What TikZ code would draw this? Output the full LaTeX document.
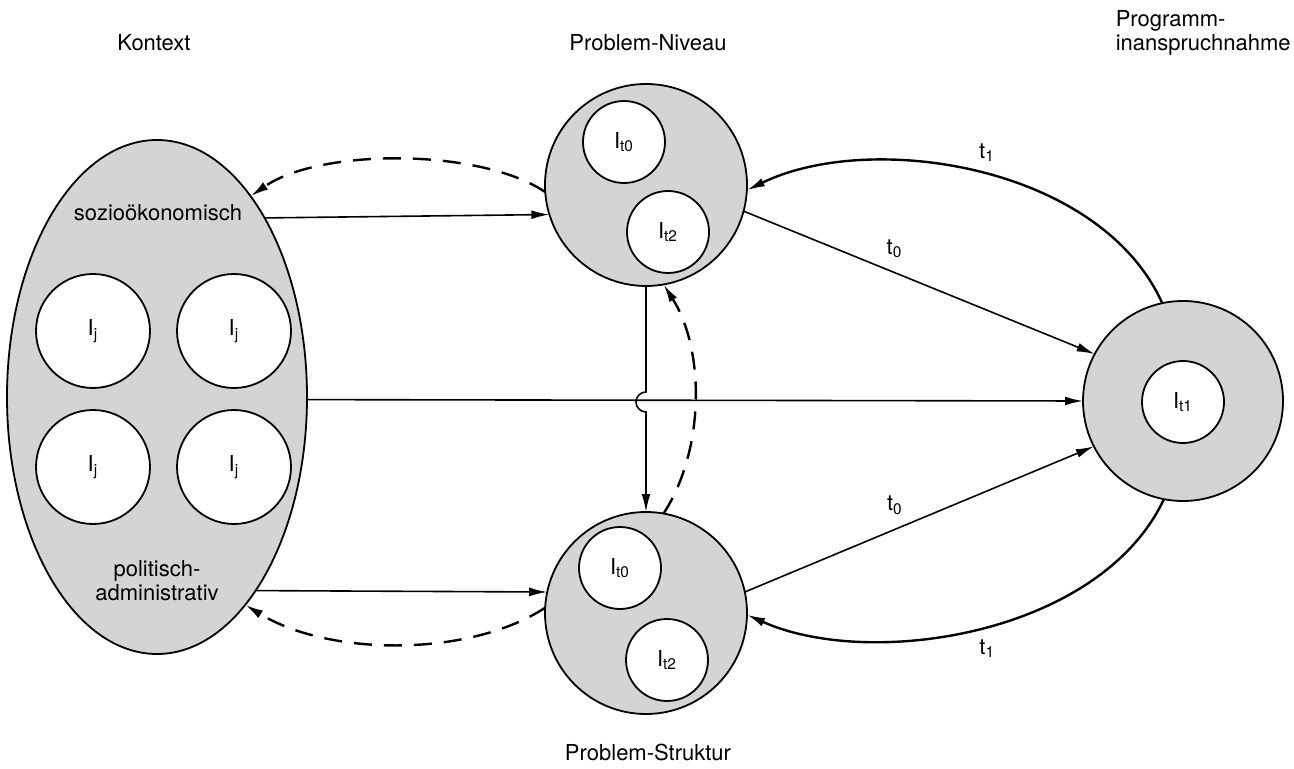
\documentclass[tikz,border=0pt]{standalone}
\usepackage{fontspec}
\setmainfont{TeX Gyre Heros}
\usetikzlibrary{arrows.meta,shapes.geometric}
\begin{document}
\begin{tikzpicture}[x=0.5pt,y=-0.5pt,
  font=\fontsize{11}{12}\selectfont,
  big/.style={circle,draw,line width=0.9pt,fill=black!17,minimum size=101pt,inner sep=0pt,outer sep=0pt},
  small/.style={circle,draw,line width=0.9pt,fill=white,minimum size=41pt,inner sep=0pt,outer sep=0pt},
  ij/.style={circle,draw,line width=0.9pt,fill=white,minimum size=57pt,inner sep=0pt,outer sep=0pt},
  tip/.style={-{Latex[length=9pt,width=4.4pt]}},
  thinarrow/.style={tip,line width=0.8pt},
  dashedarrow/.style={tip,line width=1.2pt,dash pattern=on 9pt off 6pt},
  curvearrow/.style={tip,line width=1.2pt},
  lbl/.style={inner sep=0pt}
]
\useasboundingbox (0,0) rectangle (1294,769);

% titles
\node[lbl] (tK) at (154,43) {Kontext};
\node[lbl] (tN) at (648,43) {Problem-Niveau};
\node[lbl] (tS) at (648,752) {Problem-Struktur};
\node[lbl,align=left,anchor=east] (tP) at (1291,33) {Programm-\\inanspruchnahme};

% context ellipse
\node[ellipse,draw,line width=0.9pt,fill=black!17,minimum width=150pt,minimum height=257pt,inner sep=0pt,outer sep=0pt] (E) at (157,397) {};
\node[lbl] (soz) at (158,213) {sozioökonomisch};
\node[lbl,align=center] (pol) at (157,581) {politisch-\\administrativ};
\node[ij] (j1) at (93,331) {I\textsubscript{j}};
\node[ij] (j2) at (234,331) {I\textsubscript{j}};
\node[ij] (j3) at (93,467) {I\textsubscript{j}};
\node[ij] (j4) at (234,467) {I\textsubscript{j}};

% problem level
\node[big] (N) at (646,185) {};
\node[small] (N0) at (624,142) {I\textsubscript{t0}};
\node[small] (N2) at (668,232) {I\textsubscript{t2}};

% problem structure
\node[big] (S) at (646,613) {};
\node[small] (S0) at (620,568) {I\textsubscript{t0}};
\node[small] (S2) at (667,660) {I\textsubscript{t2}};

% programme use
\node[big,minimum size=100pt] (P) at (1183,401) {};
\node[small] (P1) at (1183,402) {I\textsubscript{t1}};

% context <-> problem level
\draw[thinarrow] (E.59.5) -- (N.197.9);
\draw[dashedarrow] (N.184.5) .. controls (480,148) and (320,148) .. (E.65.9);
% context <-> problem structure
\draw[thinarrow] (E.-63.7) -- (S.168.6);
\draw[dashedarrow] (S.177.2) .. controls (470,657) and (330,657) .. (E.-67.9);
% context -> programme
\draw[thinarrow] (E.-1.5) -- (P.180);
% problem level -> structure with hop
\draw[thinarrow] (N.south) -- (646,392) arc[start angle=90,end angle=270,radius=5pt] -- (S.north);
\draw[dashedarrow] (S.80) .. controls (705,450) and (705,350) .. (N.-80);
% t0 arrows
\draw[thinarrow] (N.-15.5) -- node[pos=0.43,above=7pt,lbl] (l1) {t\textsubscript{0}} (P.152);
\draw[thinarrow] (S.12) -- node[pos=0.43,above=7pt,lbl] (l2) {t\textsubscript{0}} (P.207);
% t1 arrows
\draw[curvearrow] (P.102) .. controls (1100,165) and (870,130) .. node[pos=0.48,above=6pt,lbl] (l3) {t\textsubscript{1}} (N.-3);
\draw[curvearrow] (P.259) .. controls (1100,635) and (870,670) .. node[pos=0.48,below=6pt,lbl] (l4) {t\textsubscript{1}} (S.-1);
\end{tikzpicture}
\end{document}
